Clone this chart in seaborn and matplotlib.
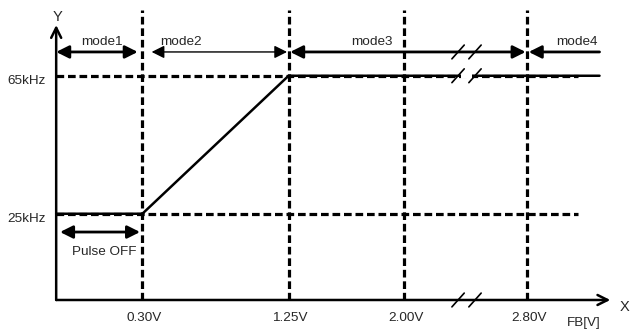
import matplotlib
matplotlib.use("Agg")
import matplotlib.pyplot as plt
import seaborn as sns

# values
fb_marks = [0.30, 1.25, 2.00, 2.80]
fb_labels = ["0.30V", "1.25V", "2.00V", "2.80V"]
freq_levels = [25, 65]
freq_labels = ["25kHz", "65kHz"]
curve_fb = [-0.26, 0.30, 1.25, 3.27]
curve_freq = [25, 25, 65, 65]
mode_names = ["mode1", "mode2", "mode3", "mode4"]
mode_spans = [(-0.26, 0.27), (0.36, 1.24), (1.26, 2.79), (3.27, 2.81)]
mode_text_x = [0.04, 0.55, 1.79, 3.12]
pulse_off = [-0.235, 0.285]
break_fb = 2.406

sns.set_style("white")
plt.rcParams["font.family"] = ["Liberation Sans", "DejaVu Sans"]

fig = plt.figure(figsize=(6.32, 3.32), dpi=100)
ax = fig.add_axes([0, 0, 1, 1])
ax.set_xlim(-0.625, 3.481)
ax.set_ylim(-9.28, 86.96)
ax.axis("off")

x0 = -0.26   # y axis position
dash = (0, (2.4, 1.2))
fs = 9.7

# axes with open arrow heads
ax.annotate("", xy=(3.34, 0), xytext=(x0, 0),
            arrowprops=dict(arrowstyle="->", lw=1.8, color="k", shrinkA=0, shrinkB=0, mutation_scale=18))
ax.annotate("", xy=(x0, 79.7), xytext=(x0, 0),
            arrowprops=dict(arrowstyle="->", lw=1.8, color="k", shrinkA=0, shrinkB=0, mutation_scale=18))
ax.text(3.43, -2.0, "X", ha="center", va="center", fontsize=10.5)
ax.text(x0 + 0.01, 82.0, "Y", ha="center", va="center", fontsize=10.5)
ax.text(3.17, -6.7, "FB[V]", ha="center", va="center", fontsize=fs)

# dashed guide lines
for v in fb_marks:
    ax.plot([v, v], [0, 84.1], color="k", lw=2.3, linestyle=dash)
for f in freq_levels:
    ax.plot([x0, 3.13], [f, f], color="k", lw=2.3, linestyle=dash)

# frequency curve
sns.lineplot(x=curve_fb, y=curve_freq, ax=ax, color="k", lw=1.8, sort=False, estimator=None)

# tick labels
for v, lab in zip(fb_marks, fb_labels):
    ax.text(v + 0.01, -5.2, lab, ha="center", va="center", fontsize=fs)
for f, lab in zip(freq_levels, freq_labels):
    ax.text(-0.45, f - 1.5, lab, ha="center", va="center", fontsize=fs)

# mode arrows
ya = 71.9
arrow_kw = dict(color="k", shrinkA=0, shrinkB=0, mutation_scale=19)
for i, (a, b) in enumerate(mode_spans):
    style = "-|>" if i == 3 else "<|-|>"
    lw = 1.0 if i == 1 else 2.0
    ax.annotate("", xy=(b, ya), xytext=(a, ya), arrowprops=dict(arrowstyle=style, lw=lw, **arrow_kw))
for name, xt in zip(mode_names, mode_text_x):
    ax.text(xt, 74.8, name, ha="center", va="center", fontsize=fs)

# pulse off arrow
ax.annotate("", xy=(pulse_off[1], 19.7), xytext=(pulse_off[0], 19.7),
            arrowprops=dict(arrowstyle="<|-|>", lw=2.0, **arrow_kw))
ax.text(0.05, 13.9, "Pulse OFF", ha="center", va="center", fontsize=fs)

# axis break marks
for yb in [0, 65, ya]:
    ax.plot([break_fb - 0.035, break_fb + 0.035], [yb, yb], color="white", lw=4, solid_capstyle="butt")
    for off in [-0.055, 0.055]:
        ax.plot([break_fb + off - 0.04, break_fb + off + 0.04], [yb - 2.0, yb + 2.0], color="k", lw=1.2)

fig.savefig("out.png", dpi=100)
